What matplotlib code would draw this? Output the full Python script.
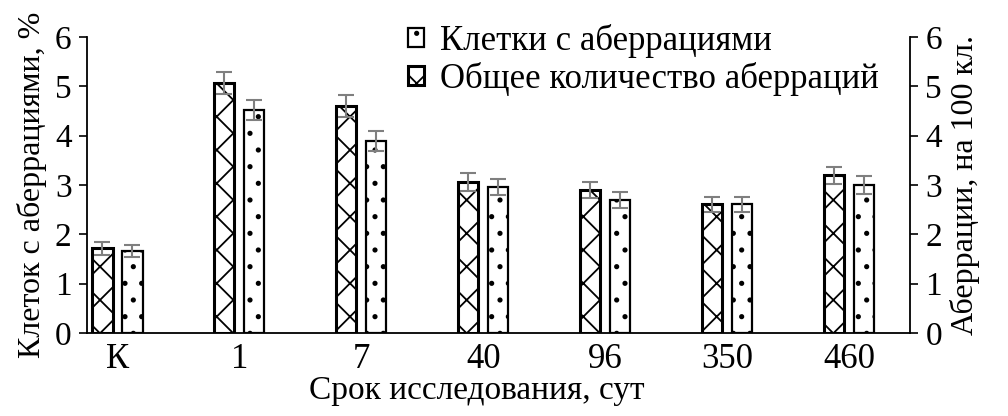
import numpy as np
import matplotlib
matplotlib.use("Agg")
import matplotlib.pyplot as plt

plt.rcParams['font.family'] = ['Liberation Serif', 'DejaVu Serif']
plt.rcParams['hatch.linewidth'] = 1.3

categories = ["К", "1", "7", "40", "96", "350", "460"]
total_aberr = [1.72, 5.07, 4.60, 3.06, 2.90, 2.61, 3.20]      # hatched bars
total_err = [0.13, 0.22, 0.22, 0.18, 0.17, 0.15, 0.17]
cells_aberr = [1.66, 4.52, 3.89, 2.96, 2.70, 2.61, 3.00]      # dotted bars
cells_err = [0.12, 0.21, 0.20, 0.16, 0.16, 0.15, 0.18]

x = np.arange(len(categories))
w = 0.165
off = 0.123

fig = plt.figure(figsize=(10.08, 4.16), dpi=100)
ax = fig.add_axes([0.0863, 0.1995, 0.8165, 0.7115])

ekw = dict(ecolor='#7f7f7f', elinewidth=1.5, capsize=6, capthick=1.5)
b2 = ax.bar(x - off, total_aberr, w, yerr=total_err, facecolor='white',
            edgecolor='black', linewidth=2.2, hatch='x', error_kw=ekw, zorder=2)
b1 = ax.bar(x + off, cells_aberr, w, yerr=cells_err, facecolor='white',
            edgecolor='black', linewidth=1.6, hatch='.', error_kw=ekw, zorder=2)

ax.set_xlim(-0.25, 6.5)
ax.set_ylim(0, 6)
ax.set_yticks(range(7))
ax.set_xticks(x)
ax.set_xticklabels(categories)
ax.tick_params(axis='x', length=0, labelsize=25, pad=7)
ax.tick_params(axis='y', length=6, width=1.2, labelsize=24, direction='out', pad=5)
ax.spines['top'].set_visible(False)
ax.spines['right'].set_visible(False)
for s in ['left', 'bottom']:
    ax.spines[s].set_linewidth(1.3)
ax.set_xlabel('Срок исследования, сут', fontsize=24, labelpad=0)
ax.xaxis.set_label_coords(0.473, -0.145)
ax.set_ylabel('Клеток с аберрациями, %', fontsize=23, labelpad=6)

ax2 = ax.twinx()
ax2.set_ylim(0, 6)
ax2.set_yticks(range(7))
ax2.tick_params(axis='y', length=6, width=1.2, labelsize=24, direction='out', pad=5)
for s in ['top', 'left', 'bottom']:
    ax2.spines[s].set_visible(False)
ax2.spines['right'].set_linewidth(1.3)
ax2.set_ylabel('Аберрации, на 100 кл.', fontsize=23, labelpad=6)

leg = ax.legend([b1, b2], ['Клетки с аберрациями', 'Общее количество аберраций'],
                loc='upper left', bbox_to_anchor=(0.388, 0.985),
                bbox_transform=fig.transFigure, frameon=False, fontsize=25,
                handlelength=0.45, handleheight=0.45, handletextpad=0.45,
                labelspacing=0.12, borderpad=0)

fig.savefig('out.png', dpi=100)
